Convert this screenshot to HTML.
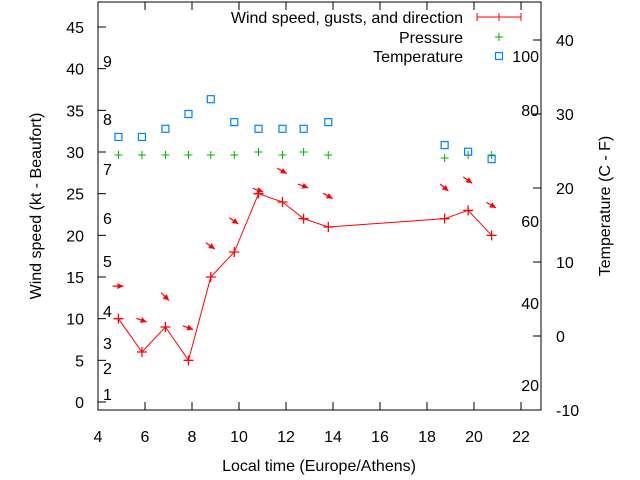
<!DOCTYPE html>
<html><head><meta charset="utf-8"><style>
body{margin:0;background:#fff}
svg{display:block;font-family:"Liberation Sans",sans-serif}
</style></head><body>
<svg id="c" width="640" height="480"></svg>
<script>
const times=[4.87,5.87,6.87,7.85,8.8,9.8,10.83,11.85,12.75,13.8,18.75,19.75,20.75];
const wind=[10,6,9,5,15,18,25,24,22,21,22,23,20];
const gusts=[13.9,9.8,12.6,8.9,18.7,21.7,25.4,27.7,25.9,24.7,25.7,26.6,23.6];
const dirs=[0,20,45,20,35,35,20,30,20,30,40,35,30];
const pressure=[1013,1013,1013,1013,1013,1013,1013.3,1013,1013.3,1013,1012.7,1013,1013];
const temps=[26.9,26.9,28,30,32,28.9,28,28,28,28.9,25.8,24.9,23.9];
const xTicks=[4,6,8,10,12,14,16,18,20,22];
const yTicks=[0,5,10,15,20,25,30,35,40,45];
const tTicks=[-10,0,10,20,30,40];
const beaufort=[[1,394],[2,368],[3,343],[4,311],[5,261],[6,218],[7,169],[8,119],[9,61]];
const fahr=[[100,56],[80,110],[60,221],[40,303],[20,385]];
const L=98,R=541,T=2,B=410;
const X=v=>98+(v-4)*23.5;
const Y=v=>402-v*8.333;
const YT=v=>336-v*7.4;
const YP=v=>155-(v-1013)*10;
const s=document.getElementById('c');
const NS='http://www.w3.org/2000/svg';
function mk(t,a,p){const e=document.createElementNS(NS,t);for(const k in a)e.setAttribute(k,a[k]);(p||s).appendChild(e);return e;}
function txt(x,y,str,anchor,extra){const e=mk('text',Object.assign({x:x,y:y,'font-size':16,fill:'#000','text-anchor':anchor||'start'},extra||{}));e.textContent=str;return e;}
const frame=mk('rect',{x:L,y:T,width:R-L,height:B-T,fill:'none',stroke:'#000','stroke-width':1});


xTicks.forEach(v=>{const x=X(v);mk('line',{x1:x,x2:x,y1:B,y2:B-8,stroke:'#000'});mk('line',{x1:x,x2:x,y1:T,y2:T+8,stroke:'#000'});
const t=txt(x,442,String(v),'middle');});
yTicks.forEach(v=>{const y=Y(v);mk('line',{x1:L,x2:L+8,y1:y,y2:y,stroke:'#000'});
const t=txt(84,y+6,String(v),'end');});
tTicks.forEach(v=>{const y=YT(v);mk('line',{x1:R,x2:R-8,y1:y,y2:y,stroke:'#000'});
const t=txt(556,y+6,String(v),'start');});
beaufort.forEach(b=>{const t=txt(103,b[1]+6,String(b[0]));});
fahr.forEach(f=>{const t=txt(539,f[1]+6,String(f[0]),'end');});
let xl=txt(319,471,'Local time (Europe/Athens)','middle');
let yl=txt(0,0,'Wind speed (kt - Beaufort)','middle',{transform:'translate(41,206) rotate(-90)'});
let y2=txt(0,0,'Temperature (C - F)','middle',{transform:'translate(610,206) rotate(-90)'});
const pts=times.map((t,i)=>X(t)+','+Y(wind[i])).join(' ');
const pl=mk('polyline',{points:pts,fill:'none',stroke:'#f00','stroke-width':1});

times.forEach((t,i)=>{const x=X(t),y=Y(wind[i]);const g=mk('path',{d:`M${x-5},${y}H${x+5}M${x},${y-5}V${y+5}`,stroke:'#f00','stroke-width':1.3});
});
times.forEach((t,i)=>{const x=X(t),y=Y(gusts[i]);const a=dirs[i]*Math.PI/180;const c=Math.cos(a),sn=Math.sin(a);
const x1=x-6*c,y1=y-6*sn,x2=x+5*c,y2=y+5*sn;
const g=mk('g',{});
mk('line',{x1:x1,y1:y1,x2:x2,y2:y2,stroke:'#f00','stroke-width':1.2},g);
const hx=x2-6*c,hy=y2-6*sn,px=-sn*3,py=c*3;
mk('polygon',{points:`${x2},${y2} ${hx+px},${hy+py} ${hx-px},${hy-py}`,fill:'#f00'},g);});
times.forEach((t,i)=>{const x=X(t),y=YP(pressure[i]);const g=mk('path',{d:`M${x-4},${y}H${x+4}M${x},${y-4}V${y+4}`,stroke:'#00b000','stroke-width':1});
});
times.forEach((t,i)=>{const x=X(t),y=YT(temps[i]);const r=mk('rect',{x:x-3.5,y:y-3.5,width:7,height:7,fill:'none',stroke:'#0080ff','stroke-width':1.2});
});
const lg=mk('g',{});
let t1=txt(463,23,'Wind speed, gusts, and direction','end');lg.appendChild(t1);
mk('path',{d:'M477,17H521M477,13V21M521,13V21M499,13V21',stroke:'#f00','stroke-width':1},lg);
let t2=txt(463,43,'Pressure','end');lg.appendChild(t2);
mk('path',{d:'M495,37H503M499,33V41',stroke:'#00b000','stroke-width':1},lg);
let t3=txt(463,62,'Temperature','end');lg.appendChild(t3);
mk('rect',{x:495.5,y:52.5,width:7,height:7,fill:'none',stroke:'#0080ff','stroke-width':1.2},lg);
</script>
</body></html>
